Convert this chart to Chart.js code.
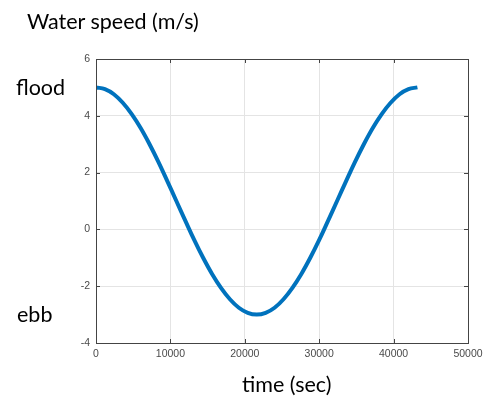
<!DOCTYPE html>
<html>
<head>
<meta charset="utf-8">
<script src="https://cdn.jsdelivr.net/npm/chart.js@4/dist/chart.umd.min.js"></script>
<style>
  body { margin: 0; background: #fff; }
  #wrap { position: relative; width: 488px; height: 398px; }
  .lbl { position: absolute; font-family: Lato, "Open Sans", sans-serif; font-size: 21.5px; color: #000; white-space: nowrap; line-height: 1; }
</style>
</head>
<body>
<div id="wrap">
  <canvas id="speedChart" width="488" height="398"></canvas>
  <div class="lbl" style="left:27px; top:11px;">Water speed (m/s)</div>
  <div class="lbl" style="left:16px; top:77px;">flood</div>
  <div class="lbl" style="left:17px; top:304px;">ebb</div>
  <div class="lbl" style="left:242px; top:374px;">time (sec)</div>
</div>
<script>
// time (sec) and water speed (m/s)
const timeSec = [0, 1200, 2400, 3600, 4800, 6000, 7200, 8400, 9600, 10800, 12000, 13200, 14400,
                 15600, 16800, 18000, 19200, 20400, 21600, 22800, 24000, 25200, 26400, 27600, 28800,
                 30000, 31200, 32400, 33600, 34800, 36000, 37200, 38400, 39600, 40800, 42000, 43200];
const speed = [5.0, 4.94, 4.76, 4.46, 4.06, 3.57, 3.0, 2.37, 1.69, 1.0, 0.31, -0.37, -1.0,
               -1.57, -2.06, -2.46, -2.76, -2.94, -3.0, -2.94, -2.76, -2.46, -2.06, -1.57, -1.0,
               -0.37, 0.31, 1.0, 1.69, 2.37, 3.0, 3.57, 4.06, 4.46, 4.76, 4.94, 5.0];
const xTicks = [0, 10000, 20000, 30000, 40000, 50000];
const yTicks = [-4, -2, 0, 2, 4, 6];

const points = timeSec.map((t, i) => ({ x: t, y: speed[i] }));

// MATLAB-style box with inward ticks
const boxPlugin = {
    id: 'box',
    afterDraw(chart) {
        const { ctx, chartArea: a, scales } = chart;
        ctx.save();
        ctx.strokeStyle = '#444';
        ctx.lineWidth = 1;
        ctx.strokeRect(a.left + 0.5, a.top + 0.5, a.right - a.left, a.bottom - a.top);
        ctx.beginPath();
        xTicks.forEach(v => {
            const px = Math.round(scales.x.getPixelForValue(v)) + 0.5;
            ctx.moveTo(px, a.bottom); ctx.lineTo(px, a.bottom - 4);
            ctx.moveTo(px, a.top); ctx.lineTo(px, a.top + 4);
        });
        yTicks.forEach(v => {
            const py = Math.round(scales.y.getPixelForValue(v)) + 0.5;
            ctx.moveTo(a.left, py); ctx.lineTo(a.left + 4, py);
            ctx.moveTo(a.right, py); ctx.lineTo(a.right - 4, py);
        });
        ctx.stroke();
        ctx.restore();
    }
};

const ctx = document.getElementById('speedChart').getContext('2d');
new Chart(ctx, {
    type: 'line',
    data: {
        datasets: [{
            data: points,
            borderColor: 'rgb(0, 114, 189)',
            borderWidth: 4,
            pointRadius: 0,
            tension: 0.4,
            fill: false
        }]
    },
    options: {
        responsive: false,
        animation: false,
        layout: { padding: { top: 59, right: 20, left: 0, bottom: 0 } },
        plugins: { legend: { display: false }, tooltip: { enabled: false } },
        scales: {
            x: {
                type: 'linear', min: 0, max: 50000,
                afterBuildTicks: s => { s.ticks = xTicks.map(v => ({ value: v })); },
                afterFit: s => { s.height = 55; },
                grid: { color: '#e4e4e4', drawTicks: false },
                border: { display: false },
                ticks: { padding: 5, maxRotation: 0, color: '#4a4a4a', callback: v => String(v),
                         font: { family: 'Liberation Sans', size: 10.5 } }
            },
            y: {
                min: -4, max: 6,
                afterBuildTicks: s => { s.ticks = yTicks.map(v => ({ value: v })); },
                afterFit: s => { s.width = 96; },
                grid: { color: '#e4e4e4', drawTicks: false },
                border: { display: false },
                ticks: { padding: 6, color: '#4a4a4a', callback: v => String(v),
                         font: { family: 'Liberation Sans', size: 10.5 } }
            }
        }
    },
    plugins: [boxPlugin]
});
</script>
</body>
</html>
